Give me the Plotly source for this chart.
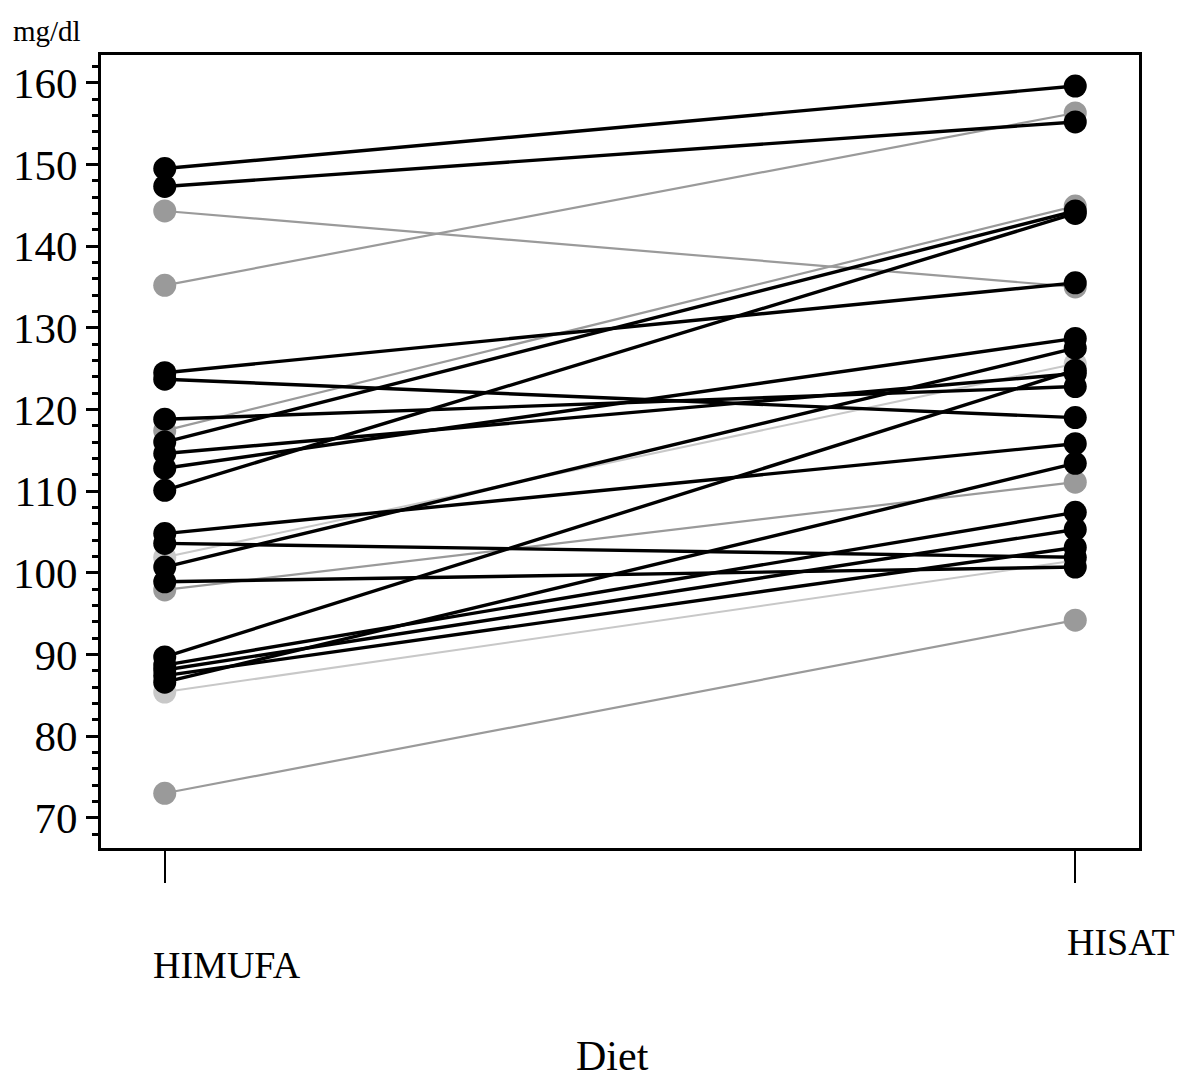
import plotly.graph_objects as go

# Diet categories
diets = ["HIMUFA", "HISAT"]

# Per-subject values (mg/dl)
himufa = [149.5, 147.3, 144.3, 135.2, 124.5, 123.7, 118.8, 117.4, 116.0, 114.6,
          112.8, 110.1, 104.8, 103.6, 101.9, 100.7, 98.9, 97.9, 89.7, 88.7,
          88.1, 87.4, 86.6, 85.4, 73.0]
hisat = [159.6, 155.2, 135.0, 156.3, 135.5, 119.0, 122.8, 144.9, 144.3, 124.4,
         128.7, 144.0, 115.8, 101.9, 125.6, 127.5, 100.7, 111.1, 124.8, 107.4,
         105.3, 103.1, 113.4, 101.5, 94.2]
# shade of each subject's trace
shade = ["black", "black", "gray", "gray", "black", "black", "black", "gray", "black", "black",
         "black", "black", "black", "black", "light", "black", "black", "gray", "black", "black",
         "black", "black", "black", "light", "gray"]

yticks = [70, 80, 90, 100, 110, 120, 130, 140, 150, 160]

style = {
    "light": dict(color="#c8c8c8", width=2),
    "gray": dict(color="#9a9a9a", width=2.2),
    "black": dict(color="#000000", width=3.4),
}

fig = go.Figure()
for layer in ["light", "gray", "black"]:
    for a, b, s in zip(himufa, hisat, shade):
        if s != layer:
            continue
        st = style[s]
        fig.add_trace(go.Scatter(
            x=diets, y=[a, b], mode="lines+markers",
            line=dict(color=st["color"], width=st["width"]),
            marker=dict(symbol="circle", size=23, color=st["color"],
                        line=dict(width=0)),
            showlegend=False, hoverinfo="skip",
        ))

serif = "Liberation Serif, Times New Roman, serif"

fig.update_layout(
    width=1177, height=1079,
    margin=dict(l=93, r=46, t=47, b=239),
    paper_bgcolor="white", plot_bgcolor="white",
    font=dict(family=serif, color="black"),
    xaxis=dict(
        type="category", range=[-0.07, 1.07],
        showline=True, linecolor="black", linewidth=3, mirror=True,
        ticks="outside", ticklen=32, tickwidth=2, tickcolor="black",
        showticklabels=False, showgrid=False, zeroline=False,
    ),
    yaxis=dict(
        range=[66.3, 163.4], tickvals=yticks, ticktext=[str(v) for v in yticks],
        showline=True, linecolor="black", linewidth=3, mirror=True,
        ticks="outside", ticklen=12, tickwidth=3, tickcolor="black",
        tickfont=dict(family=serif, size=43, color="black"),
        minor=dict(dtick=2, ticks="outside", ticklen=6, tickwidth=3, tickcolor="black"),
        showgrid=False, zeroline=False, automargin=False,
    ),
    annotations=[
        dict(text="mg/dl", xref="paper", yref="paper", x=-0.0866, y=1.03,
             xanchor="left", yanchor="middle", showarrow=False,
             font=dict(family=serif, size=29, color="black")),
        dict(text="HIMUFA", xref="x", yref="paper", x=0, y=-0.147,
             xanchor="left", yanchor="middle", xshift=-14, showarrow=False,
             font=dict(family=serif, size=38, color="black")),
        dict(text="HISAT", xref="x", yref="paper", x=1, y=-0.118,
             xanchor="left", yanchor="middle", xshift=-10, showarrow=False,
             font=dict(family=serif, size=38, color="black")),
        dict(text="Diet", xref="paper", yref="paper", x=0.493, y=-0.262,
             xanchor="center", yanchor="middle", showarrow=False,
             font=dict(family=serif, size=42, color="black")),
    ],
)

fig.write_html("out.html")
